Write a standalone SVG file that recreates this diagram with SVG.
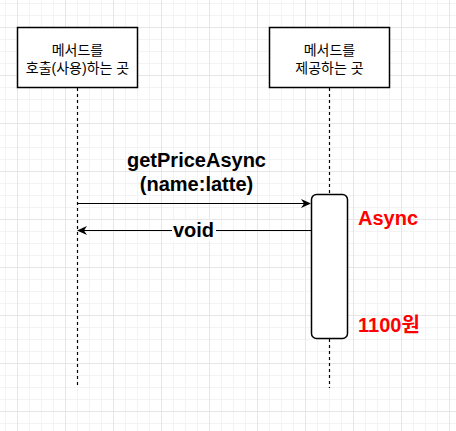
<svg xmlns="http://www.w3.org/2000/svg" width="456" height="431" viewBox="0 0 456 431">
<defs>
<pattern id="grid" patternUnits="userSpaceOnUse" x="17" y="27" width="48" height="48">
<path d="M12.5 0V48M24.5 0V48M36.5 0V48M0 12.5H48M0 24.5H48M0 36.5H48" stroke="#f3f3f3" stroke-width="1" fill="none"/>
<path d="M0.5 0V48M0 0.5H48" stroke="#e6e6e6" stroke-width="1" fill="none"/>
</pattern>
<marker id="arr" viewBox="0 0 10 10" refX="9" refY="5" markerWidth="10" markerHeight="10" markerUnits="userSpaceOnUse" orient="auto">
<path d="M0,0.5 L10,5 L0,9.5 L3,5 z" fill="#000"/>
</marker>
<style>
.box{fill:#fff;stroke:#000;stroke-width:1.5}
.life{stroke:#000;stroke-width:1.2;stroke-dasharray:3,3;fill:none}
.msg{stroke:#000;stroke-width:1.2;fill:none}
.hdr{font-family:"Liberation Sans","Noto Sans CJK KR",sans-serif;font-size:14px;text-anchor:middle;fill:#000}
.lbl{font-family:"Liberation Sans","Noto Sans CJK KR",sans-serif;font-size:20px;font-weight:bold;fill:#000}
.red{fill:#ff0000}
</style>
</defs>
<rect width="456" height="431" fill="#fff"/>
<rect width="456" height="431" fill="url(#grid)"/>
<g id="lifelines">
<path class="life" d="M77.5 88V388"/>
<path class="life" d="M329.5 88V194"/>
<path class="life" d="M329.5 339V388"/>
</g>
<g id="caller">
<rect class="box" x="17.5" y="27.5" width="120" height="60"/>
<text class="hdr" x="77.5" y="55">메서드를</text>
<text class="hdr" x="77.5" y="73">호출(사용)하는 곳</text>
</g>
<g id="provider">
<rect class="box" x="269.5" y="27.5" width="120" height="60"/>
<text class="hdr" x="329.5" y="55">메서드를</text>
<text class="hdr" x="329.5" y="73">제공하는 곳</text>
</g>
<g id="activation">
<rect class="box" x="311.5" y="194.5" width="36" height="144" rx="5" ry="5"/>
</g>
<g id="connectors">
<path class="msg" d="M77.5 203.5H310" marker-end="url(#arr)"/>
<path class="msg" d="M311 230.5H78" marker-end="url(#arr)"/>
</g>
<g id="labels">
<text class="lbl" x="196.5" y="167" text-anchor="middle">getPriceAsync</text>
<text class="lbl" x="196.5" y="191" text-anchor="middle">(name:latte)</text>
<rect x="172" y="220" width="44" height="21" fill="#fff"/>
<text class="lbl" x="193.5" y="237" text-anchor="middle">void</text>
<text class="lbl red" x="358" y="225">Async</text>
<text class="lbl red" x="358" y="332">1100원</text>
</g>
</svg>
